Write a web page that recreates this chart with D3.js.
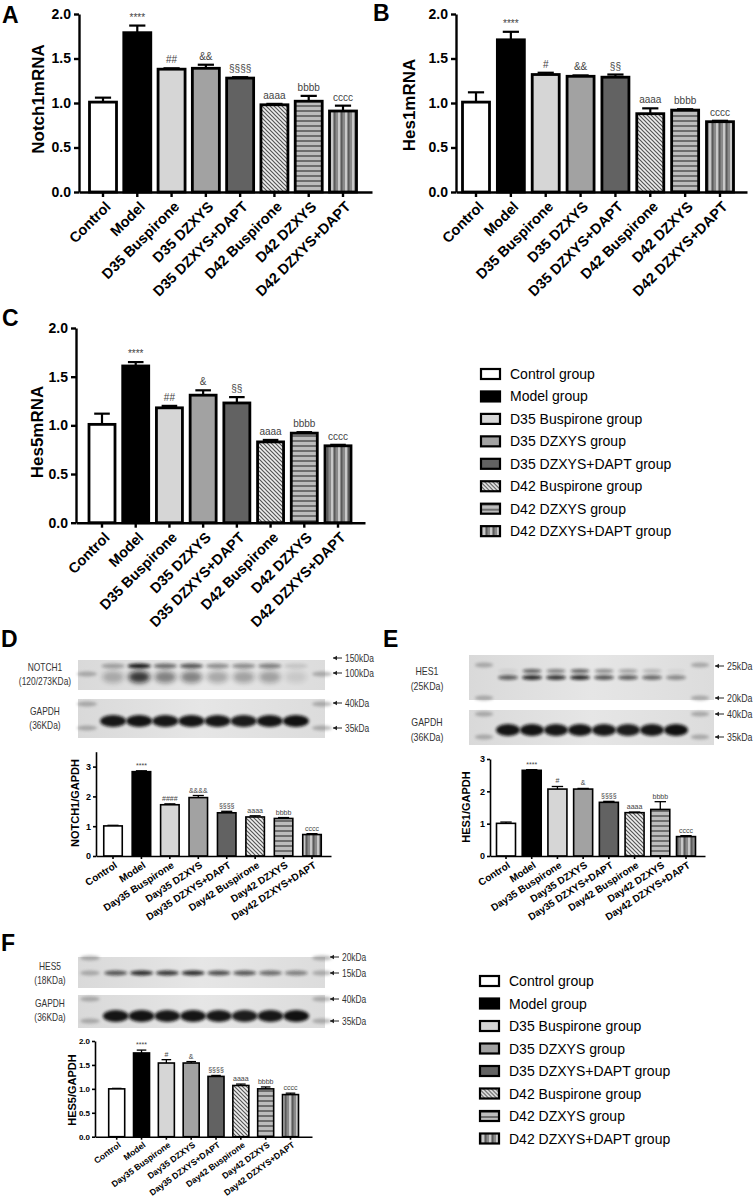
<!DOCTYPE html>
<html>
<head>
<meta charset="utf-8"/>
<script src="https://cdnjs.cloudflare.com/ajax/libs/d3/7.8.5/d3.min.js"></script>
<style>
  body { margin: 0; background: #fff; }
  text { font-family: "Liberation Sans", Arial, sans-serif; }
</style>
</head>
<body>
<script>
// ---- data ----
const groups = ["Control group", "Model group", "D35 Buspirone group", "D35 DZXYS group",
  "D35 DZXYS+DAPT group", "D42 Buspirone group", "D42 DZXYS group", "D42 DZXYS+DAPT group"];
const shortLabels = ["Control", "Model", "D35 Buspirone", "D35 DZXYS", "D35 DZXYS+DAPT",
  "D42 Buspirone", "D42 DZXYS", "D42 DZXYS+DAPT"];
const dayLabels = ["Control", "Model", "Day35 Buspirone", "Day35 DZXYS", "Day35 DZXYS+DAPT",
  "Day42 Buspirone", "Day42 DZXYS", "Day42 DZXYS+DAPT"];

const notch1Mean = [1.01, 1.79, 1.38, 1.39, 1.28, 0.98, 1.02, 0.91];
const notch1Sem  = [0.05, 0.08, 0.01, 0.04, 0.01, 0.01, 0.06, 0.06];
const notch1Sig  = ["", "****", "##", "&&", "§§§§", "aaaa", "bbbb", "cccc"];

const hes1Mean = [1.01, 1.71, 1.32, 1.30, 1.29, 0.88, 0.92, 0.79];
const hes1Sem  = [0.11, 0.09, 0.02, 0.01, 0.03, 0.06, 0.01, 0.01];
const hes1Sig  = ["", "****", "#", "&&", "§§", "aaaa", "bbbb", "cccc"];

const hes5Mean = [1.01, 1.61, 1.18, 1.31, 1.23, 0.83, 0.92, 0.79];
const hes5Sem  = [0.11, 0.04, 0.02, 0.05, 0.06, 0.02, 0.01, 0.01];
const hes5Sig  = ["", "****", "##", "&", "§§", "aaaa", "bbbb", "cccc"];

const notch1WbMean = [1.01, 2.83, 1.72, 1.96, 1.45, 1.31, 1.26, 0.72];
const notch1WbSem  = [0.02, 0.03, 0.03, 0.07, 0.05, 0.04, 0.03, 0.03];
const notch1WbSig  = ["", "****", "####", "&&&&", "§§§§", "aaaa", "bbbb", "cccc"];

const hes1WbMean = [1.01, 2.65, 2.07, 2.07, 1.66, 1.34, 1.44, 0.60];
const hes1WbSem  = [0.04, 0.02, 0.08, 0.02, 0.03, 0.02, 0.24, 0.03];
const hes1WbSig  = ["", "****", "#", "&", "§§§§", "aaaa", "bbbb", "cccc"];

const hes5WbMean = [1.00, 1.75, 1.54, 1.54, 1.26, 1.07, 1.00, 0.88];
const hes5WbSem  = [0.01, 0.06, 0.07, 0.03, 0.02, 0.03, 0.04, 0.03];
const hes5WbSig  = ["", "****", "#", "&", "§§§§", "aaaa", "bbbb", "cccc"];

const ticks2 = [0, 0.5, 1.0, 1.5, 2.0];
const ticks3 = [0, 1, 2, 3];

// western blot band strength per lane (8 sample lanes)
const notch1Upper = [0.30, 0.95, 0.55, 0.65, 0.40, 0.40, 0.45, 0.12];
const notch1Lower = [0.25, 0.80, 0.45, 0.45, 0.28, 0.30, 0.30, 0.10];
const gapdhD      = [0.95, 0.97, 0.95, 0.96, 0.95, 0.93, 0.96, 0.98];
const hes1Upper   = [0.08, 0.60, 0.45, 0.60, 0.40, 0.30, 0.20, 0.05];
const hes1Lower   = [0.60, 0.85, 0.80, 0.85, 0.65, 0.60, 0.55, 0.40];
const gapdhE      = [0.96, 0.97, 0.95, 0.96, 0.95, 0.92, 0.95, 0.98];
const hes5Band    = [0.65, 0.85, 0.80, 0.85, 0.70, 0.65, 0.55, 0.45];
const gapdhF      = [0.96, 0.97, 0.95, 0.96, 0.95, 0.92, 0.95, 0.98];

// ---- styles ----
const groupFill = ["#ffffff", "#000000", "#d6d6d6", "#a2a2a2", "#626262",
  "url(#diag)", "url(#hstripe)", "url(#vstripe)"];

const svg = d3.select("body").append("svg")
  .attr("width", 754).attr("height", 1199)
  .attr("viewBox", [0, 0, 754, 1199]);

svg.append("rect").attr("width", 754).attr("height", 1199).attr("fill", "#fff");

const defs = svg.append("defs");
const pd = defs.append("pattern").attr("id", "diag").attr("patternUnits", "userSpaceOnUse")
  .attr("width", 4).attr("height", 4);
pd.append("rect").attr("width", 4).attr("height", 4).attr("fill", "#eeeeee");
pd.append("path").attr("d", "M-1,-1 L5,5 M-1,3 L1,5 M3,-1 L5,1").attr("stroke", "#555").attr("stroke-width", 1.2);

const ph = defs.append("pattern").attr("id", "hstripe").attr("patternUnits", "userSpaceOnUse")
  .attr("width", 6).attr("height", 5);
ph.append("rect").attr("width", 6).attr("height", 5).attr("fill", "#bdbdbd");
ph.append("rect").attr("width", 6).attr("height", 2).attr("fill", "#6e6e6e");

const pv = defs.append("pattern").attr("id", "vstripe").attr("patternUnits", "userSpaceOnUse")
  .attr("width", 7).attr("height", 5);
pv.append("rect").attr("width", 7).attr("height", 5).attr("fill", "#8a8a8a");
pv.append("rect").attr("x", 2).attr("width", 2).attr("height", 5).attr("fill", "#c8c8c8");
pv.append("rect").attr("x", 5).attr("width", 1.5).attr("height", 5).attr("fill", "#5a5a5a");

const blurF = defs.append("filter").attr("id", "blur").attr("x", "-50%").attr("y", "-100%")
  .attr("width", "200%").attr("height", "300%");
blurF.append("feGaussianBlur").attr("stdDeviation", 1.4);
const blurS = defs.append("filter").attr("id", "blur2").attr("x", "-50%").attr("y", "-100%")
  .attr("width", "200%").attr("height", "300%");
blurS.append("feGaussianBlur").attr("stdDeviation", 2.6);

const grad = defs.append("linearGradient").attr("id", "blotBg").attr("x1", 0).attr("x2", 1);
grad.append("stop").attr("offset", "0%").attr("stop-color", "#d9d9d9");
grad.append("stop").attr("offset", "50%").attr("stop-color", "#e6e6e6");
grad.append("stop").attr("offset", "100%").attr("stop-color", "#dcdcdc");

// band scale whose first/last band centres land where the figure has them
function bandScale(domain, a0, a1, c0, c1, bw) {
  const n = domain.length, s = (c1 - c0) / (n - 1);
  const L = c0 - bw / 2 - a0, R = a1 - c1 - bw / 2;
  return d3.scaleBand().domain(domain).range([a0, a1])
    .paddingInner(1 - bw / s).paddingOuter((L + R) / (2 * s)).align(L / (L + R));
}

function barChart(c) {
  const g = svg.append("g");
  const x = bandScale(c.labels, c.a0, c.a1, c.c0, c.c1, c.bw);
  const y = d3.scaleLinear().domain([0, c.ymax]).range([c.yBase, c.yTop]);
  const rows = c.means.map((m, i) => ({ label: c.labels[i], m, s: c.sems[i], sig: c.sig[i], i }));
  const cx = d => x(d.label) + x.bandwidth() / 2;

  // error bars (upper only) drawn first so the bar outline covers the stem base
  g.selectAll(".err").data(rows).join("line")
    .attr("x1", cx).attr("x2", cx)
    .attr("y1", d => y(d.m)).attr("y2", d => y(d.m + d.s))
    .attr("stroke", "#000").attr("stroke-width", c.ew);
  g.selectAll(".cap").data(rows).join("line")
    .attr("x1", d => cx(d) - x.bandwidth() * 0.3).attr("x2", d => cx(d) + x.bandwidth() * 0.3)
    .attr("y1", d => y(d.m + d.s)).attr("y2", d => y(d.m + d.s))
    .attr("stroke", "#000").attr("stroke-width", c.ew);

  g.selectAll(".bar").data(rows).join("rect")
    .attr("x", d => x(d.label)).attr("width", x.bandwidth())
    .attr("y", d => y(d.m)).attr("height", d => c.yBase - y(d.m))
    .attr("fill", d => groupFill[d.i])
    .attr("stroke", "#000").attr("stroke-width", c.sw);

  g.selectAll(".sig").data(rows).join("text")
    .attr("x", cx).attr("y", d => y(d.m + d.s) - c.sigGap)
    .attr("text-anchor", "middle").attr("font-size", c.sigSize).attr("fill", "#444")
    .text(d => d.sig);

  // y axis
  const ya = g.append("g").attr("transform", `translate(${c.a0},0)`)
    .call(d3.axisLeft(y).tickValues(c.ticks).tickFormat(d3.format(c.fmt))
      .tickSize(c.tickLen).tickSizeOuter(0).tickPadding(c.tickPad));
  ya.select(".domain").attr("stroke-width", c.aw);
  ya.selectAll(".tick line").attr("stroke-width", c.aw);
  ya.selectAll(".tick text").attr("font-size", c.tickFont).attr("font-weight", "bold")
    .attr("fill", "#000");

  // x axis: ticks from the axis, category names as rotated labels
  const xa = g.append("g").attr("transform", `translate(0,${c.yBase})`)
    .call(d3.axisBottom(x).tickSize(c.tickLen).tickSizeOuter(0).tickFormat(""));
  xa.select(".domain").attr("stroke-width", c.aw);
  xa.selectAll(".tick line").attr("stroke-width", c.aw);

  g.selectAll(".xl").data(rows).join("text")
    .attr("transform", d => `translate(${cx(d) + c.xdx},${c.yBase + c.xdy}) rotate(${c.angle})`)
    .attr("text-anchor", "end").attr("dy", "0.35em")
    .attr("font-size", c.xFont).attr("font-weight", "bold")
    .text(d => d.label);

  g.append("text")
    .attr("transform", `translate(${c.ylx},${c.yly}) rotate(-90)`)
    .attr("text-anchor", "middle").attr("font-size", c.yFont).attr("font-weight", "bold")
    .text(c.ylabel);
}

function legend(x0, y0, step) {
  const g = svg.append("g");
  const row = g.selectAll("g").data(groups).join("g")
    .attr("transform", (d, i) => `translate(${x0},${y0 + i * step})`);
  row.append("rect").attr("x", 0).attr("y", -5).attr("width", 19).attr("height", 10)
    .attr("fill", (d, i) => groupFill[i]).attr("stroke", "#000").attr("stroke-width", 2.2);
  row.append("text").attr("x", 29).attr("dy", "0.36em").attr("font-size", 14).text(d => d);
}

function panelLetter(txt, x, y) {
  svg.append("text").attr("x", x).attr("y", y).attr("font-size", 23).attr("font-weight", "bold").text(txt);
}

// condensed text: the narrow face is not installed, so squeeze horizontally
function narrowText(g, x, y, lines, size, anchor) {
  const t = g.append("g").attr("transform", `translate(${x},${y}) scale(0.8,1)`)
    .append("text").attr("text-anchor", anchor).attr("font-size", size).attr("fill", "#333");
  t.selectAll("tspan").data(lines).join("tspan")
    .attr("x", 0).attr("dy", (d, i) => i ? size * 1.35 : "0.35em").text(d => d);
}

// blot: two strips, sample bands read from arrays
function blot(c) {
  const g = svg.append("g");
  const lanes = d3.scalePoint().domain(d3.range(10)).range([c.m0, c.m1]);
  const laneW = lanes.step();
  c.strips.forEach(st => {
    g.append("rect").attr("x", c.x0).attr("y", st.y0).attr("width", c.x1 - c.x0)
      .attr("height", st.y1 - st.y0).attr("fill", "url(#blotBg)");
    [0, 9].forEach(l => st.ladder.forEach(ly => {
      g.append("ellipse").attr("cx", lanes(l)).attr("cy", ly).attr("rx", laneW * 0.38).attr("ry", 2.6)
        .attr("fill", "#666").attr("opacity", 0.45).attr("filter", "url(#blur)");
    }));
    st.bands.forEach(b => {
      g.selectAll(null).data(b.v).join("ellipse")
        .attr("cx", (d, i) => lanes(i + 1)).attr("cy", b.y)
        .attr("rx", laneW * b.w).attr("ry", b.h)
        .attr("fill", "#111").attr("opacity", d => d)
        .attr("filter", b.soft ? "url(#blur2)" : "url(#blur)");
    });
    narrowText(g, c.lx, st.ly, st.label, c.font, "middle");
    st.marks.forEach(mk => {
      g.append("line").attr("x1", c.ax).attr("x2", c.ax + 9).attr("y1", mk.y).attr("y2", mk.y)
        .attr("stroke", "#222").attr("stroke-width", 1);
      g.append("path").attr("d", `M${c.ax},${mk.y} l4,-2.2 l0,4.4 z`).attr("fill", "#222");
      narrowText(g, c.ax + 12, mk.y, [mk.t], c.font, "start");
    });
  });
}

// ---- panels A, B, C ----
const big = { ymax: 2, ticks: ticks2, fmt: ".1f", tickLen: 5, tickPad: 3, tickFont: 14, xFont: 14.5,
  yFont: 17, angle: -45, xdx: 5, xdy: 12, sw: 2.8, ew: 2.2, aw: 2.4, sigSize: 10, sigGap: 5 };

barChart({ ...big, labels: shortLabels, means: notch1Mean, sems: notch1Sem, sig: notch1Sig,
  a0: 79, a1: 372, c0: 103, c1: 343, bw: 27, yTop: 14, yBase: 192, ylabel: "Notch1mRNA", ylx: 44, yly: 99 });
barChart({ ...big, labels: shortLabels, means: hes1Mean, sems: hes1Sem, sig: hes1Sig,
  a0: 456, a1: 747, c0: 476, c1: 720, bw: 27, yTop: 14, yBase: 192, ylabel: "Hes1mRNA", ylx: 415, yly: 105 });
barChart({ ...big, labels: shortLabels, means: hes5Mean, sems: hes5Sem, sig: hes5Sig,
  a0: 76, a1: 365, c0: 102, c1: 338, bw: 26, yTop: 328, yBase: 522.7, ylabel: "Hes5mRNA", ylx: 43, yly: 432 });

panelLetter("A", 2, 23);
panelLetter("B", 373, 21);
panelLetter("C", 2, 326);
legend(481, 374, 22.45);

// ---- panels D, E, F ----
const small = { tickLen: 3, tickPad: 2, tickFont: 9, xFont: 10, yFont: 11, angle: -33, xdx: 3, xdy: 8,
  sw: 1.6, ew: 1.3, aw: 1.6, sigSize: 7, sigGap: 3 };

panelLetter("D", 1, 647);
blot({ x0: 78, x1: 325, m0: 87, m1: 322, lx: 45, ax: 333, font: 10.5,
  strips: [
    { y0: 660, y1: 690, ly: 667, label: ["NOTCH1", "(120/273KDa)"], ladder: [674],
      bands: [{ v: notch1Upper, y: 666, w: 0.45, h: 2.5 }, { v: notch1Lower, y: 677, w: 0.42, h: 6, soft: true }],
      marks: [{ y: 658, t: "150kDa" }, { y: 673, t: "100kDa" }] },
    { y0: 699, y1: 738, ly: 711, label: ["GAPDH", "(36KDa)"], ladder: [704, 728],
      bands: [{ v: gapdhD, y: 721, w: 0.5, h: 6 }],
      marks: [{ y: 703, t: "40kDa" }, { y: 728, t: "35kDa" }] }
  ] });
barChart({ ...small, ymax: 3.5, ticks: ticks3, fmt: "d", labels: dayLabels,
  means: notch1WbMean, sems: notch1WbSem, sig: notch1WbSig,
  a0: 96, a1: 331, c0: 113, c1: 312, bw: 18.5, yTop: 751.7, yBase: 856,
  ylabel: "NOTCH1/GAPDH", ylx: 79, yly: 803 });

panelLetter("E", 383, 647);
blot({ x0: 469, x1: 714, m0: 484, m1: 700, lx: 427, ax: 715, font: 11,
  strips: [
    { y0: 655, y1: 700, ly: 671, label: ["HES1", "(25KDa)"], ladder: [665, 698],
      bands: [{ v: hes1Upper, y: 671, w: 0.4, h: 2 }, { v: hes1Lower, y: 677.5, w: 0.42, h: 2.4 }],
      marks: [{ y: 666, t: "25kDa" }, { y: 698, t: "20kDa" }] },
    { y0: 710, y1: 745, ly: 722, label: ["GAPDH", "(36KDa)"], ladder: [714, 737],
      bands: [{ v: gapdhE, y: 730, w: 0.5, h: 6 }],
      marks: [{ y: 714, t: "40kDa" }, { y: 737, t: "35kDa" }] }
  ] });
barChart({ ...small, ymax: 3, ticks: ticks3, fmt: "d", labels: dayLabels,
  means: hes1WbMean, sems: hes1WbSem, sig: hes1WbSig,
  a0: 490, a1: 705, c0: 506, c1: 686, bw: 19, yTop: 759, yBase: 856,
  ylabel: "HES1/GAPDH", ylx: 470, yly: 807 });

panelLetter("F", 1, 951);
blot({ x0: 78, x1: 325, m0: 90, m1: 322, lx: 50, ax: 330, font: 10.5,
  strips: [
    { y0: 957, y1: 988, ly: 966, label: ["HES5", "(18KDa)"], ladder: [958, 973],
      bands: [{ v: hes5Band, y: 973, w: 0.45, h: 2.6 }],
      marks: [{ y: 957, t: "20kDa" }, { y: 973, t: "15kDa" }] },
    { y0: 995, y1: 1028, ly: 1003, label: ["GAPDH", "(36KDa)"], ladder: [999, 1021],
      bands: [{ v: gapdhF, y: 1016, w: 0.5, h: 6 }],
      marks: [{ y: 999, t: "40kDa" }, { y: 1021, t: "35kDa" }] }
  ] });
barChart({ ...small, ymax: 2, ticks: ticks2, fmt: ".1f", tickFont: 8, xFont: 8.6, angle: -36, xdy: 7,
  labels: dayLabels, means: hes5WbMean, sems: hes5WbSem, sig: hes5WbSig,
  a0: 95, a1: 312, c0: 116.7, c1: 290.5, bw: 16, yTop: 1041, yBase: 1136.7,
  ylabel: "HES5/GAPDH", ylx: 76, yly: 1090 });

legend(480, 981, 22.5);
</script>
</body>
</html>
